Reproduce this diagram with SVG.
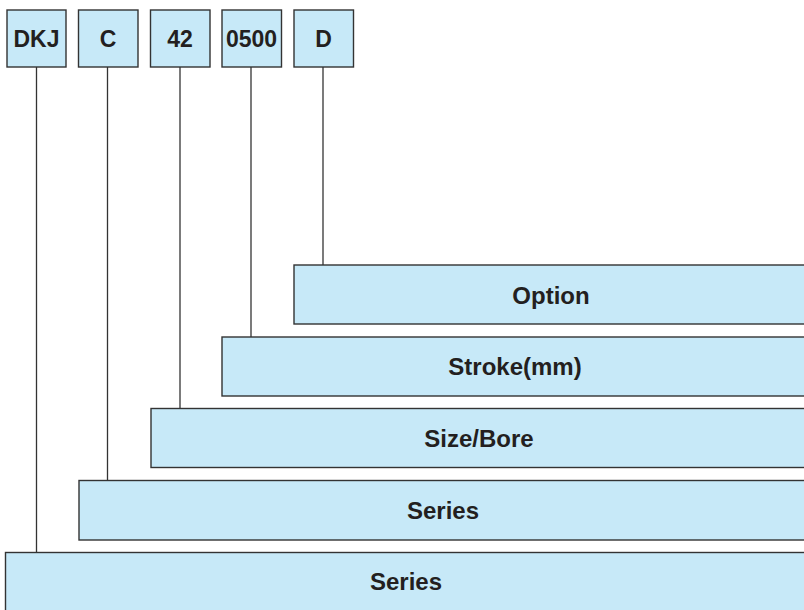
<svg xmlns="http://www.w3.org/2000/svg" width="804" height="610" viewBox="0 0 804 610">
<style>
.b{fill:#c7e9f8;stroke:#333;stroke-width:1.4}
.t{font-family:"Liberation Sans",Arial,sans-serif;font-weight:bold;font-size:24px;fill:#231f20;text-anchor:middle}
.s{font-size:23px}
.c{stroke:#333;stroke-width:1.3;fill:none}
</style>
<rect width="804" height="610" fill="#fff"/>
<g id="connectors">
<path class="c" d="M36.5,67V552"/>
<path class="c" d="M107.5,67V480"/>
<path class="c" d="M180,67V408"/>
<path class="c" d="M251,67V337"/>
<path class="c" d="M323,67V265"/>
</g>
<g id="code-dkj"><rect class="b" x="7" y="10" width="59" height="57"/><text class="t s" x="36.5" y="47">DKJ</text></g>
<g id="code-c"><rect class="b" x="78.5" y="10" width="59.5" height="57"/><text class="t s" x="108" y="47">C</text></g>
<g id="code-42"><rect class="b" x="150.5" y="10" width="59.5" height="57"/><text class="t s" x="180" y="47">42</text></g>
<g id="code-0500"><rect class="b" x="222" y="10" width="59.5" height="57"/><text class="t s" x="251.5" y="47">0500</text></g>
<g id="code-d"><rect class="b" x="294" y="10" width="59.5" height="57"/><text class="t s" x="323.5" y="47">D</text></g>
<g id="option"><rect class="b" x="294" y="265" width="514" height="59"/><text class="t" x="551" y="303.5">Option</text></g>
<g id="stroke"><rect class="b" x="222" y="337" width="586" height="59"/><text class="t" x="515" y="375">Stroke(mm)</text></g>
<g id="size"><rect class="b" x="151" y="408.5" width="657" height="59"/><text class="t" x="479" y="446.5">Size/Bore</text></g>
<g id="series2"><rect class="b" x="79" y="480.5" width="729" height="59.5"/><text class="t" x="443" y="519">Series</text></g>
<g id="series1"><rect class="b" x="5.5" y="552.5" width="803" height="62"/><text class="t" x="406" y="590">Series</text></g>
</svg>
